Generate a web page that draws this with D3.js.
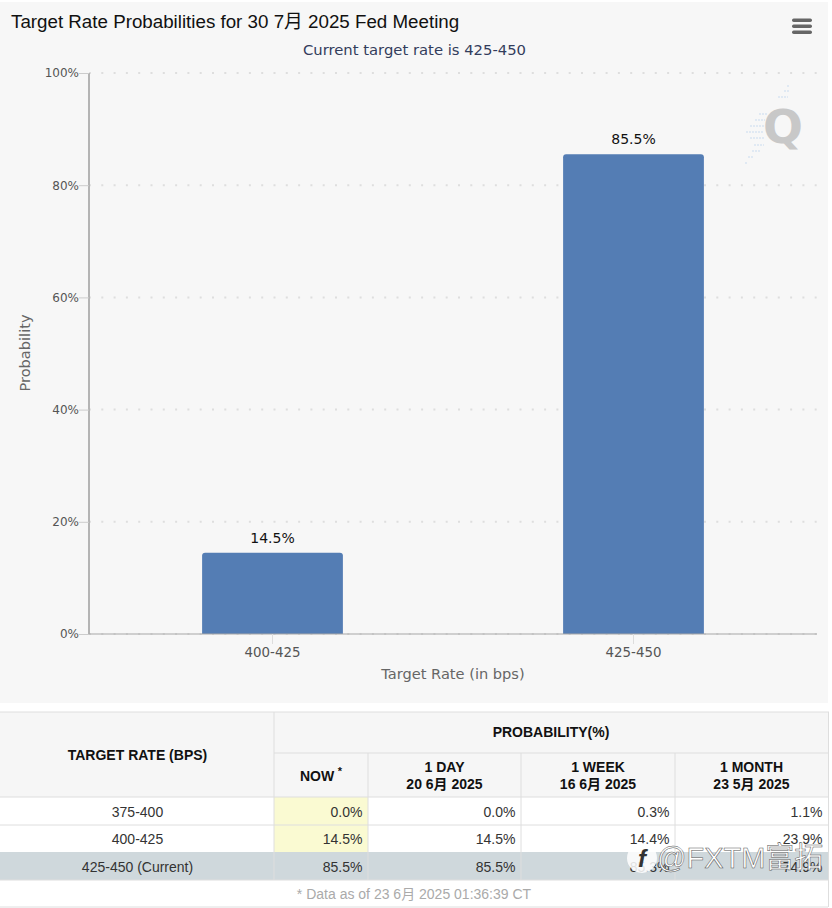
<!DOCTYPE html>
<html><head><meta charset="utf-8">
<script src="https://cdn.jsdelivr.net/npm/d3@7"></script>
<style>html,body{margin:0;padding:0;background:#fff;overflow:hidden}svg{display:block}</style>
</head><body><svg id="c" width="832" height="908"></svg>
<script>
const rateCategories = ["400-425", "425-450"];
const probabilities = [14.5, 85.5];
const yTickValues = [0, 20, 40, 60, 80, 100];
const chartTitle = "Target Rate Probabilities for 30 7月 2025 Fed Meeting";
const chartSubtitle = "Current target rate is 425-450";
const tableRates = ["375-400", "400-425", "425-450 (Current)"];
const nowValues = ["0.0%", "14.5%", "85.5%"];
const dayValues = ["0.0%", "14.5%", "85.5%"];
const weekValues = ["0.3%", "14.4%", "85.3%"];
const monthValues = ["1.1%", "23.9%", "74.9%"];
const headerLines = [["1 DAY", "20 6月 2025"], ["1 WEEK", "16 6月 2025"], ["1 MONTH", "23 5月 2025"]];

const sans = "'Liberation Sans',Arial,'Noto Sans CJK SC',sans-serif";
const lucida = "'DejaVu Sans',sans-serif";
const svg = d3.select("#c");
svg.append("rect").attr("x",0).attr("y",2).attr("width",828).attr("height",701).attr("fill","#f7f7f7");

const y = d3.scaleLinear().domain([0,100]).range([634,73]);
const x = d3.scaleBand().domain(rateCategories).range([92,814]).paddingInner(0.61).paddingOuter(0.305);

svg.append("text").attr("x",11).attr("y",28).attr("font-family",sans).attr("font-size",18.75).attr("fill","#111").text(chartTitle);
svg.append("text").attr("x",414.5).attr("y",55).attr("text-anchor","middle").attr("font-family",lucida).attr("font-size",14.8).attr("fill","#333d5c").text(chartSubtitle);

// menu icon
const menuY = [20,26,32];
svg.append("g").selectAll("rect").data(menuY).join("rect").attr("x",792).attr("y",d=>d-1.5).attr("width",20).attr("height",3.5).attr("rx",1.7).attr("fill","#666");

// gridlines
svg.append("g").selectAll("line").data(yTickValues).join("line")
 .attr("x1",89).attr("x2",817).attr("y1",d=>y(d)).attr("y2",d=>y(d))
 .attr("stroke","#dedede").attr("stroke-width",2).attr("stroke-dasharray","2 10.3");

// watermark Q
const wm = svg.append("g");
const wmRows = [[787,86,3],[784,91,5],[778,97,10],[759,114,8],[755,120,10],[750,126,14],[746,132,18],[750,138,14],[754,145,10],[752,151,8],[748,157,5],[745,163,3]];
wm.selectAll("line").data(wmRows).join("line").attr("x1",d=>d[0]).attr("x2",d=>d[0]+d[2]).attr("y1",d=>d[1]).attr("y2",d=>d[1]).attr("stroke","#e0e9f3").attr("stroke-width",2).attr("stroke-dasharray","2 1");
wm.append("text").attr("x",783).attr("y",143).attr("text-anchor","middle").attr("font-family",lucida).attr("font-weight","bold").attr("font-size",47).attr("fill","#c8c8c8").text("Q");

// axes
const yAxis = d3.axisLeft(y).tickValues(yTickValues).tickFormat(d=>d+"%").tickSize(10).tickPadding(0);
const gy = svg.append("g").attr("transform","translate(89,0)").call(yAxis);
gy.select(".domain").attr("stroke","#b4b4b4").attr("stroke-width",2).attr("d","M0,73V634");
gy.selectAll(".tick line").attr("stroke","#ccc");
gy.selectAll("text").attr("font-family",lucida).attr("font-size",12).attr("fill","#555");

// bars
const r = 3;
svg.append("g").selectAll("path").data(probabilities).join("path")
 .attr("fill","#547db4")
 .attr("d",(d,i)=>{const a=x(rateCategories[i]),b=a+x.bandwidth(),t=y(d),z=y(0);
   return `M${a},${z}V${t+r}Q${a},${t} ${a+r},${t}H${b-r}Q${b},${t} ${b},${t+r}V${z}Z`;});
svg.append("g").selectAll("text").data(probabilities).join("text")
 .attr("x",(d,i)=>x(rateCategories[i])+x.bandwidth()/2).attr("y",d=>y(d)-10)
 .attr("text-anchor","middle").attr("font-family",lucida).attr("font-size",14).attr("fill","#111").text(d=>d.toFixed(1)+"%");

const xAxis = d3.axisBottom(x).tickSize(10).tickPadding(3);
const gx = svg.append("g").attr("transform","translate(0,634)").call(xAxis);
gx.select(".domain").attr("stroke","#a8a8a8").attr("stroke-width",1.2).attr("d","M89,0H817");
gx.selectAll(".tick line").attr("stroke","#ddd");
gx.selectAll("text").attr("font-family",lucida).attr("font-size",13.4).attr("fill","#555");

svg.append("text").attr("x",453).attr("y",679).attr("text-anchor","middle").attr("font-family",lucida).attr("font-size",14.6).attr("fill","#666").text("Target Rate (in bps)");
svg.append("text").attr("transform","translate(30,353) rotate(-90)").attr("text-anchor","middle").attr("font-family",lucida).attr("font-size",14.6).attr("fill","#666").text("Probability");

// table
const colX = [0,274,368,521,675,828];
const t = svg.append("g").attr("font-family",sans);
t.append("rect").attr("x",0).attr("y",712).attr("width",828).attr("height",85).attr("fill","#f6f6f6");
t.append("rect").attr("x",274).attr("y",797).attr("width",94).attr("height",55).attr("fill","#fafad2");
t.append("rect").attr("x",0).attr("y",852).attr("width",828).attr("height",28).attr("fill","#cfd8dc");
const gridColor = "#dedede";
const seg = [[0,712,829,712],[274,753,828,753],[0,797,828,797],[0,825,828,825],[0,880,828,880],[0,907,828,907],
 [274,712,274,880],[368,753,368,880],[521,753,521,880],[675,753,675,880],[828.5,712,828.5,907]];
t.append("g").selectAll("line").data(seg).join("line").attr("x1",d=>d[0]).attr("y1",d=>d[1]).attr("x2",d=>d[2]).attr("y2",d=>d[3]).attr("stroke",gridColor).attr("stroke-width",1);

const hdr = (xx,yy,s)=>t.append("text").attr("x",xx).attr("y",yy).attr("text-anchor","middle").attr("font-size",14).attr("font-weight","bold").attr("fill","#111").text(s);
hdr(137.5,760,"TARGET RATE (BPS)");
hdr(551,737,"PROBABILITY(%)");
hdr(317,781,"NOW");
t.append("text").attr("x",340).attr("y",775).attr("text-anchor","middle").attr("font-size",11).attr("font-weight","bold").attr("fill","#111").text("*");
headerLines.forEach((ls,i)=>{const cx=(colX[i+2]+colX[i+3])/2; hdr(cx,772,ls[0]); hdr(cx,789,ls[1]);});

const rowBase = [817,844,872];
t.append("g").selectAll("text").data(tableRates).join("text").attr("x",137.5).attr("y",(d,i)=>rowBase[i]).attr("text-anchor","middle").attr("font-size",14).attr("fill","#333").text(d=>d);
[nowValues,dayValues,weekValues,monthValues].forEach((col,c)=>{
 t.append("g").selectAll("text").data(col).join("text").attr("x",colX[c+2]-5.5).attr("y",(d,i)=>rowBase[i]).attr("text-anchor","end").attr("font-size",14).attr("fill","#333").text(d=>d);
});
t.append("text").attr("x",414).attr("y",899).attr("text-anchor","middle").attr("font-size",14).attr("fill","#aaa").text("* Data as of 23 6月 2025 01:36:39 CT");

// social watermark
const soc = svg.append("g");
soc.append("circle").attr("cx",642).attr("cy",858).attr("r",15).attr("fill","#fff").attr("fill-opacity",0.85);
soc.append("text").attr("x",642).attr("y",867).attr("text-anchor","middle").attr("font-family",sans).attr("font-style","italic").attr("font-weight","bold").attr("font-size",24).attr("fill","#333").text("f");
soc.append("text").attr("x",657).attr("y",868).attr("font-family",sans).attr("font-size",29).attr("fill","#fff").attr("stroke","#555").attr("stroke-width",0.5).text("@FXTM富拓");
</script></body></html>
